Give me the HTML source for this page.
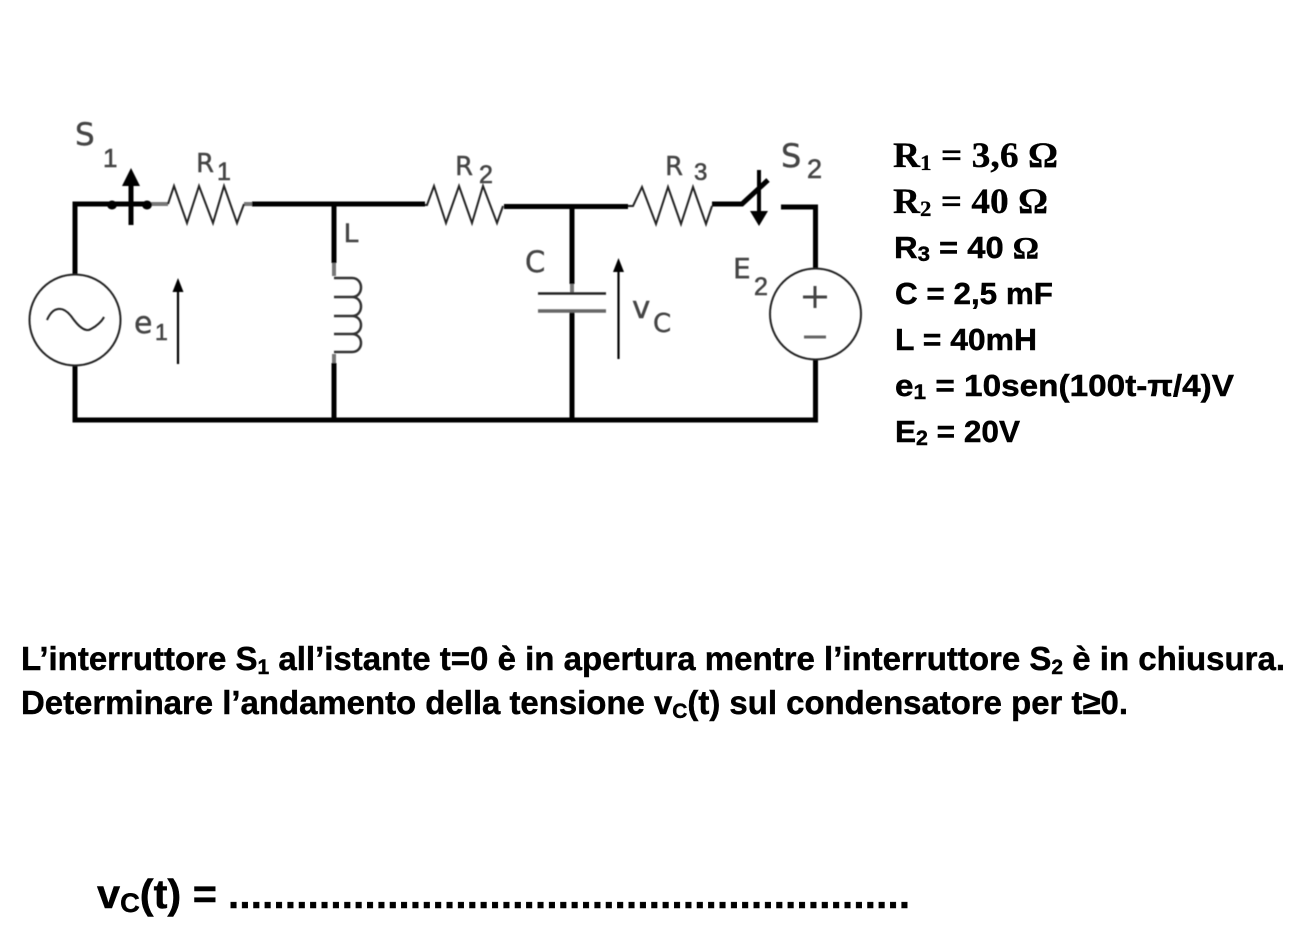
<!DOCTYPE html>
<html lang="it">
<head>
<meta charset="utf-8">
<title>Circuito</title>
<style>
html,body{margin:0;padding:0;background:#fff;width:1298px;height:944px;overflow:hidden}
svg{display:block}
.w{stroke:#000;stroke-width:5;fill:none;stroke-linecap:butt;stroke-linejoin:miter}
.t{stroke:#222;stroke-width:2;fill:none;stroke-linejoin:miter}
.g{stroke:#777;stroke-width:4;fill:none}
.l{font-family:"DejaVu Sans","Liberation Sans",sans-serif;fill:#444;stroke:#444;stroke-width:.4}
.n{font-family:"Liberation Sans",sans-serif;fill:#444;stroke:#444;stroke-width:.6}
.b{font-family:"Liberation Sans",sans-serif;font-weight:bold;fill:#000;stroke:#000;stroke-width:.45}
.s{font-family:"Liberation Serif",serif;font-weight:bold;fill:#000;stroke:#000;stroke-width:.3}
</style>
</head>
<body>
<svg width="1298" height="944" viewBox="0 0 1298 944" xmlns="http://www.w3.org/2000/svg">
<defs><filter id="bl" filterUnits="userSpaceOnUse" x="0" y="100" width="900" height="350"><feGaussianBlur stdDeviation="0.5"/></filter></defs>
<g filter="url(#bl)">
<!-- wires -->
<path class="w" d="M150 204H75V274"/>
<path class="w" d="M75 366V420H818"/>
<path class="w" d="M252 204H334"/>
<path class="w" d="M334 204H425"/>
<path class="w" d="M334 204V263"/>
<path class="w" d="M334 363V420"/>
<path class="w" d="M504 206.500H628"/>
<path class="w" d="M572 206V284"/>
<path class="w" d="M572 312V420"/>
<path class="w" d="M712 204H742L768 180"/>
<path class="w" d="M781 207H815.500V268"/>
<path class="w" d="M815.500 360V420"/>
<path class="g" d="M572 284V293"/>
<path class="g" d="M334 263V276M334 354V363"/>
<path class="g" d="M150 204H168M244 204H252"/>
<path class="t" d="M168 204L174 186L187 223L199 186L213 223L224 186L237 223L244 204"/>
<path class="t" d="M425 205H427L434 186L446 223L459 186L472 223L483 186L497 223L503 206"/>
<path class="t" d="M628 206H633L642 187L656 224L668 187L681 224L693 187L706 224L712 206"/>
<!-- S1 -->
<ellipse cx="112" cy="205" rx="5" ry="4.500" fill="#000"/><ellipse cx="147" cy="205" rx="5" ry="4.500" fill="#000"/>
<path d="M131 182V225" stroke="#000" stroke-width="5"/>
<path d="M131 168L140 186H122Z" fill="#000"/>
<!-- S2 -->
<path d="M759 170V214" stroke="#000" stroke-width="4"/>
<path d="M750 211H768L759 226Z" fill="#000"/>
<!-- sources -->
<circle class="t" cx="75" cy="320" r="45.500"/>
<path class="t" d="M47 320C53 306 63 306 71 316C78 326 85 333 91 329C97 326 102 321 104 317"/>
<circle class="t" cx="815.500" cy="314" r="45.500"/>
<path d="M803 297H827M815 286V308" stroke="#444" stroke-width="3"/>
<path d="M804 337H826" stroke="#666" stroke-width="3"/>
<!-- inductor -->
<path d="M334 278H352C364 278 364 297 352 297H334M352 297C364 297 364 316 352 316H334M352 316C364 316 364 334 352 334H334M352 334C364 334 364 352 352 352H334" fill="none" stroke="#333" stroke-width="2.500"/>
<!-- capacitor -->
<path d="M538 293.500H606" stroke="#222" stroke-width="2.400"/>
<path d="M538 311H606" stroke="#666" stroke-width="3.400"/>
<!-- arrows -->
<path d="M178 288V364" stroke="#000" stroke-width="2.200"/><path d="M178 278L183.500 292H172.500Z" fill="#000"/>
<path d="M618.500 268V359" stroke="#000" stroke-width="2.200"/><path d="M618.500 258L624 272H613Z" fill="#000"/>
<!-- circuit labels -->
<text class="l" x="75" y="145" font-size="31">S</text>
<text class="n" x="103" y="167" font-size="26">1</text>
<text class="l" x="196" y="172" font-size="26">R</text>
<text class="n" x="217" y="180" font-size="25">1</text>
<text class="n" x="344" y="242" font-size="27">L</text>
<text class="l" x="134" y="333" font-size="30">e</text>
<text class="n" x="155" y="340" font-size="23">1</text>
<text class="l" x="455" y="175" font-size="26">R</text>
<text class="n" x="479" y="183" font-size="25">2</text>
<text class="l" x="665" y="175" font-size="26">R</text>
<text class="n" x="694" y="180" font-size="24">3</text>
<text class="l" x="781" y="167" font-size="32">S</text>
<text class="n" x="807" y="178" font-size="27">2</text>
<text class="l" x="525" y="272" font-size="29">C</text>
<text class="l" x="733" y="278" font-size="28">E</text>
<text class="n" x="754" y="295" font-size="25">2</text>
<text class="l" x="632" y="318" font-size="31">v</text>
<text class="l" x="653" y="332" font-size="26">C</text>
</g>
<!-- values -->
<text class="s" x="893" y="167" font-size="36" textLength="165" lengthAdjust="spacingAndGlyphs">R<tspan font-size="22" dy="3">1</tspan><tspan dy="-3"> = 3,6 Ω</tspan></text>
<text class="s" x="893" y="213" font-size="36" textLength="155" lengthAdjust="spacingAndGlyphs">R<tspan font-size="22" dy="3">2</tspan><tspan dy="-3"> = 40 Ω</tspan></text>
<text class="b" x="894" y="258" font-size="31" textLength="145" lengthAdjust="spacingAndGlyphs">R<tspan font-size="21" dy="3">3</tspan><tspan dy="-3"> = 40 </tspan><tspan font-family="Liberation Serif">Ω</tspan></text>
<text class="b" x="895" y="304" font-size="31" textLength="158" lengthAdjust="spacingAndGlyphs">C = 2,5 mF</text>
<text class="b" x="895" y="350" font-size="31" textLength="142" lengthAdjust="spacingAndGlyphs">L = 40mH</text>
<text class="b" x="895" y="396" font-size="31" textLength="339" lengthAdjust="spacingAndGlyphs">e<tspan font-size="21" dy="3">1</tspan><tspan dy="-3"> = 10sen(100t-π/4)V</tspan></text>
<text class="b" x="895" y="442" font-size="31" textLength="125" lengthAdjust="spacingAndGlyphs">E<tspan font-size="21" dy="3">2</tspan><tspan dy="-3"> = 20V</tspan></text>
<!-- paragraph -->
<text class="b" x="21" y="670" font-size="33" textLength="1264" lengthAdjust="spacingAndGlyphs">L’interruttore S<tspan font-size="21" dy="4">1</tspan><tspan dy="-4"> all’istante t=0 è in apertura mentre l’interruttore S</tspan><tspan font-size="21" dy="4">2</tspan><tspan dy="-4"> è in chiusura.</tspan></text>
<text class="b" x="21" y="714" font-size="33" textLength="1107" lengthAdjust="spacingAndGlyphs">Determinare l’andamento della tensione v<tspan font-size="21" dy="4">C</tspan><tspan dy="-4">(t) sul condensatore per t≥0.</tspan></text>
<text class="b" x="97" y="908" font-size="41" textLength="120" lengthAdjust="spacingAndGlyphs">v<tspan font-size="27" dy="4">C</tspan><tspan dy="-4">(t) =</tspan></text>
<text class="b" x="228" y="908" font-size="40" textLength="682" lengthAdjust="spacing">............................................................</text>
</svg>
</body>
</html>
